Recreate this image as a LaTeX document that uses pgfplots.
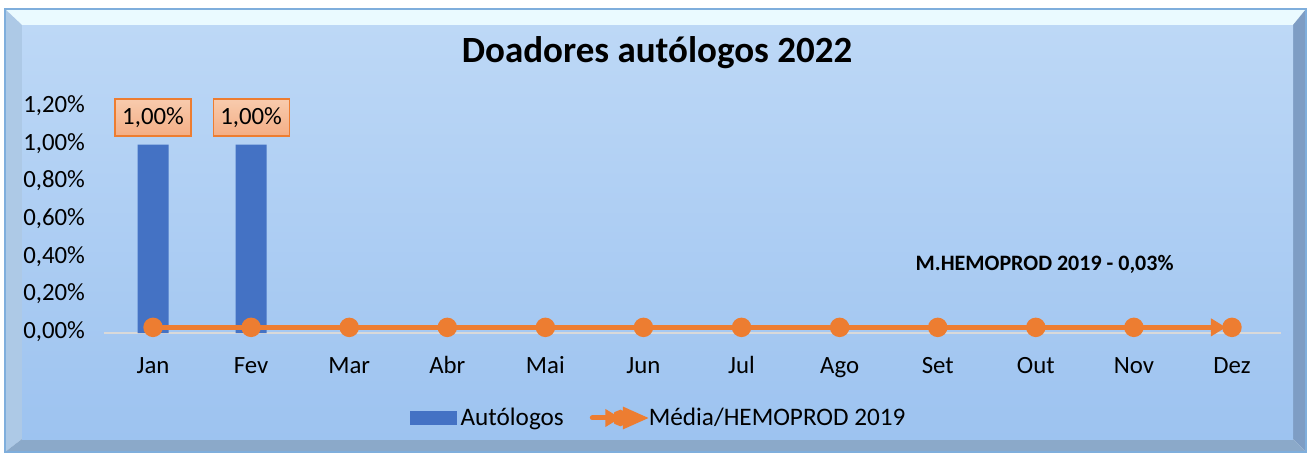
\documentclass[border=0pt]{standalone}
\usepackage{fontspec}
\setmainfont{Carlito}
\usepackage{pgfplots}
\pgfplotsset{compat=1.18}
\usetikzlibrary{arrows.meta}

\definecolor{barblue}{HTML}{4472C4}
\definecolor{lineorange}{HTML}{ED7D31}
\definecolor{lblTop}{HTML}{F8CBAD}
\definecolor{lblBot}{HTML}{F4AE85}
\definecolor{faceTop}{HTML}{BDD8F6}
\definecolor{faceBot}{HTML}{9DC3F0}
\definecolor{bvtop}{HTML}{EAFAFF}
\definecolor{bvleft}{HTML}{ADC9E6}
\definecolor{bvright}{HTML}{7E9DC4}
\definecolor{bvbottom}{HTML}{8BA9C9}
\definecolor{framecol}{HTML}{7FAEDC}
\definecolor{axisgray}{HTML}{D9D9D9}

\begin{document}
\begin{tikzpicture}
\useasboundingbox (0,0) rectangle (655pt,-226pt);
\fill[white] (0,0) rectangle (655pt,-226pt);
% bevelled frame
\fill[bvtop] (2.5pt,-4.5pt) -- (653pt,-4.5pt) -- (646.5pt,-12.5pt) -- (11pt,-12.5pt) -- cycle;
\fill[bvleft] (2.5pt,-4.5pt) -- (11pt,-12.5pt) -- (11pt,-219.5pt) -- (2.5pt,-226pt) -- cycle;
\fill[bvright] (653pt,-4.5pt) -- (653pt,-226pt) -- (646.5pt,-219.5pt) -- (646.5pt,-12.5pt) -- cycle;
\fill[bvbottom] (2.5pt,-226pt) -- (11pt,-219.5pt) -- (646.5pt,-219.5pt) -- (653pt,-226pt) -- cycle;
\shade[top color=faceTop, bottom color=faceBot] (11pt,-12.5pt) rectangle (646.5pt,-219.5pt);
\draw[framecol, line width=0.6pt] (2.5pt,-4.5pt) rectangle (653pt,-226pt);

\node[font=\fontsize{18.5}{22}\selectfont\bfseries] at (328.5pt,-26.5pt) {Doadores autólogos 2022};

\begin{axis}[
  at={(52pt,-166.5pt)}, anchor=south west,
  scale only axis, width=588.5pt, height=113pt,
  xmin=-0.5, xmax=11.5, ymin=0, ymax=1.2,
  axis x line=bottom, axis y line=left,
  x axis line style={draw=axisgray, line width=1pt, -},
  y axis line style={draw=none},
  major tick length=0pt,
  typeset ticklabels with strut,
  xtick={0,1,2,3,4,5,6,7,8,9,10,11},
  xticklabels={Jan,Fev,Mar,Abr,Mai,Jun,Jul,Ago,Set,Out,Nov,Dez},
  ytick={0,0.2,0.4,0.6,0.8,1.0,1.2},
  yticklabels={{0,00\%},{0,20\%},{0,40\%},{0,60\%},{0,80\%},{1,00\%},{1,20\%}},
  tick label style={font=\fontsize{12.4}{14}\selectfont},
  yticklabel style={xshift=-6pt},
  xticklabel style={yshift=-7pt},
  clip=false,
  legend style={at={(0.472,-0.376)}, anchor=center, draw=none, fill=none,
    legend columns=2, font=\fontsize{12.6}{14}\selectfont,
    /tikz/every even column/.append style={column sep=11pt}},
]
\addplot[ybar, bar width=15.5pt, fill=barblue, draw=none,
  nodes near coords={\pgfmathprintnumber[fixed,fixed zerofill,precision=2,use comma,assume math mode=true]{\pgfplotspointmeta}\%},
  every node near coord/.append style={font=\fontsize{12.4}{14}\selectfont, text=black,
    draw=lineorange, line width=0.6pt, top color=lblTop, bottom color=lblBot,
    minimum width=38pt, minimum height=18.5pt, inner sep=0pt, anchor=south, yshift=4pt},
  legend image code/.code={\fill[barblue] (0pt,-3.5pt) rectangle (23.5pt,3.5pt);}]
  coordinates {(0,1.00) (1,1.00)};
\addlegendentry{Autólogos}
\addplot[lineorange, line width=2.5pt, -{Triangle[length=7.5pt,width=8.5pt]}, shorten >=3pt,
  mark=*, mark size=3.6pt, mark options={solid, fill=lineorange, draw=none},
  legend image code/.code={
    \draw[lineorange, line width=2.5pt, line cap=round] (0pt,0pt) -- (17pt,0pt);
    \fill[lineorange] (16.5pt,-3.8pt) -- (25pt,0pt) -- (16.5pt,3.8pt) -- cycle;
    \fill[lineorange] (14pt,0pt) circle (2.8pt);}]
  coordinates {(0,0.03) (1,0.03) (2,0.03) (3,0.03) (4,0.03) (5,0.03)
               (6,0.03) (7,0.03) (8,0.03) (9,0.03) (10,0.03) (11,0.03)};
\addlegendentry{Média/HEMOPROD 2019}
\node[font=\fontsize{11}{13}\selectfont\bfseries] at (axis cs:9.09,0.366) {M.HEMOPROD 2019 - 0,03\%};
\end{axis}
\end{tikzpicture}
\end{document}
